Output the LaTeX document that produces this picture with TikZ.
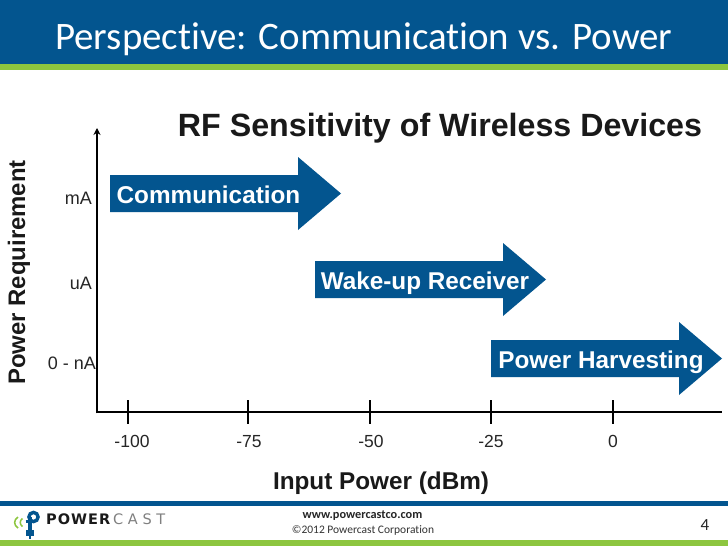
\documentclass[tikz,border=0pt]{standalone}
\usepackage{fontspec}
\usetikzlibrary{arrows.meta}
\setmainfont{Liberation Sans}
\newfontfamily\carl[Ligatures=NoCommon]{Carlito}
\newfontfamily\logoa[LetterSpace=7]{DejaVu Sans}
\newfontfamily\logob[LetterSpace=32]{DejaVu Sans}
\definecolor{pcblue}{HTML}{03558F}
\definecolor{pcgreen}{HTML}{8DC63F}
\tikzset{
  band/.style={fill=#1,draw=none},
  axisline/.style={line width=2.6pt,black},
  tickmark/.style={line width=2pt,black},
  blockarrow/.style={fill=pcblue,draw=none},
  arrowtext/.style={text=white,font=\fontsize{24.3}{26}\selectfont\bfseries,anchor=base,inner sep=0pt},
  ylab/.style={font=\fontsize{18}{20}\selectfont,text=black!85,inner sep=0pt,anchor=base east},
  xlab/.style={font=\fontsize{17.5}{20}\selectfont,text=black!85,inner sep=0pt,anchor=base},
  heading/.style={font=\fontsize{24.3}{28}\selectfont\bfseries,text=black!90,inner sep=0pt,anchor=base},
}
\begin{document}
\begin{tikzpicture}[x=1pt,y=-1pt]
\useasboundingbox (0,0) rectangle (728,546);
\fill[white] (0,0) rectangle (728,546);
% header
\fill[band=pcblue] (0,0) rectangle (728,63.5);
\fill[band=pcgreen] (0,63.5) rectangle (728,69.5);
\node[font=\carl\fontsize{38.9}{40}\selectfont,text=white,anchor=base west,inner sep=0pt] (title) at (55,49) {Perspective: Communication vs. Power};
% footer
\fill[band=pcblue] (0,500.5) rectangle (728,506);
\fill[band=pcgreen] (0,540) rectangle (728,546);
% axes
\coordinate (org) at (97,412);
\coordinate (ytop) at (97,128);
\coordinate (xend) at (722,412);
\draw[line width=2.2pt,black,-{Stealth[length=7pt,width=7pt]}] (97,413.3) -- (ytop);
\draw[axisline] (org) -- (xend);
\foreach \x in {128,248,370,491,613} \draw[tickmark] (\x,400) -- (\x,424);
\foreach \x/\t in {132/-100,249/-75,371/-50,491/-25,613/0}
  \node[xlab] at (\x,447) {\t};
\node[ylab] (ma) at (92,204) {mA};
\node[ylab] (ua) at (92,289) {uA};
\node[ylab] (na) at (96,369) {0 - nA};
% block arrows
\fill[blockarrow] (110,175) -- (298,175) -- (298,157) -- (341,193.5) -- (298,230) -- (298,212) -- (110,212) -- cycle;
\node[arrowtext] (comm) at (208.5,203) {Communication};
\fill[blockarrow] (315,261) -- (503,261) -- (503,243) -- (546,279.5) -- (503,316) -- (503,298) -- (315,298) -- cycle;
\node[arrowtext] (wake) at (425,289) {Wake-up Receiver};
\fill[blockarrow] (491,340) -- (679,340) -- (679,322) -- (722,358.5) -- (679,395) -- (679,377) -- (491,377) -- cycle;
\node[arrowtext] (harv) at (601,368) {Power Harvesting};
% labels
\node[heading,font=\fontsize{32.2}{36}\selectfont\bfseries] (head) at (440,136) {RF Sensitivity of Wireless Devices};
\node[heading,font=\fontsize{23.9}{28}\selectfont\bfseries,rotate=90] (ytitle) at (25,272.5) {Power Requirement};
\node[heading] (xtitle) at (381,489) {Input Power (dBm)};
% footer text
\node[font=\carl\bfseries\fontsize{12.3}{15}\selectfont,text=black!85,inner sep=0pt] (web) at (362.5,516) {www.powercastco.com};
\node[font=\carl\fontsize{11.5}{15}\selectfont,text=black!80,inner sep=0pt] (copy) at (363,530.5) {©2012  Powercast Corporation};
\node[font=\carl\fontsize{17}{19}\selectfont,text=black!85,inner sep=0pt] (pg) at (705,525) {4};
% logo
\draw[pcgreen,line width=1.5pt] (22.5,518.5) .. controls (19.5,520.5) and (19.5,524.5) .. (22.5,526.5);
\draw[pcgreen,line width=1.5pt] (18,517) .. controls (13.5,520) and (13.5,525) .. (18,528);
\draw[pcblue,line width=3.4pt] (33.5,517) circle[radius=4.6];
\draw[pcblue,line width=3.4pt] (25.5,521.6) -- (33.5,521.6);
\draw[pcblue,line width=4pt] (30,517) -- (30,533);
\fill[pcblue] (26,530) rectangle (34,535.5);
\fill[pcblue] (29,535.5) rectangle (31,538.5);
\node[font=\logoa\bfseries\fontsize{14.5}{17}\selectfont,text=black!90,anchor=base west,inner sep=0pt] (lp) at (46,524.5) {POWER};
\node[font=\logob\fontsize{14.5}{17}\selectfont,text=black!50,anchor=base west,inner sep=0pt] (lc) at (113,524.5) {CAST};
\end{tikzpicture}
\end{document}
